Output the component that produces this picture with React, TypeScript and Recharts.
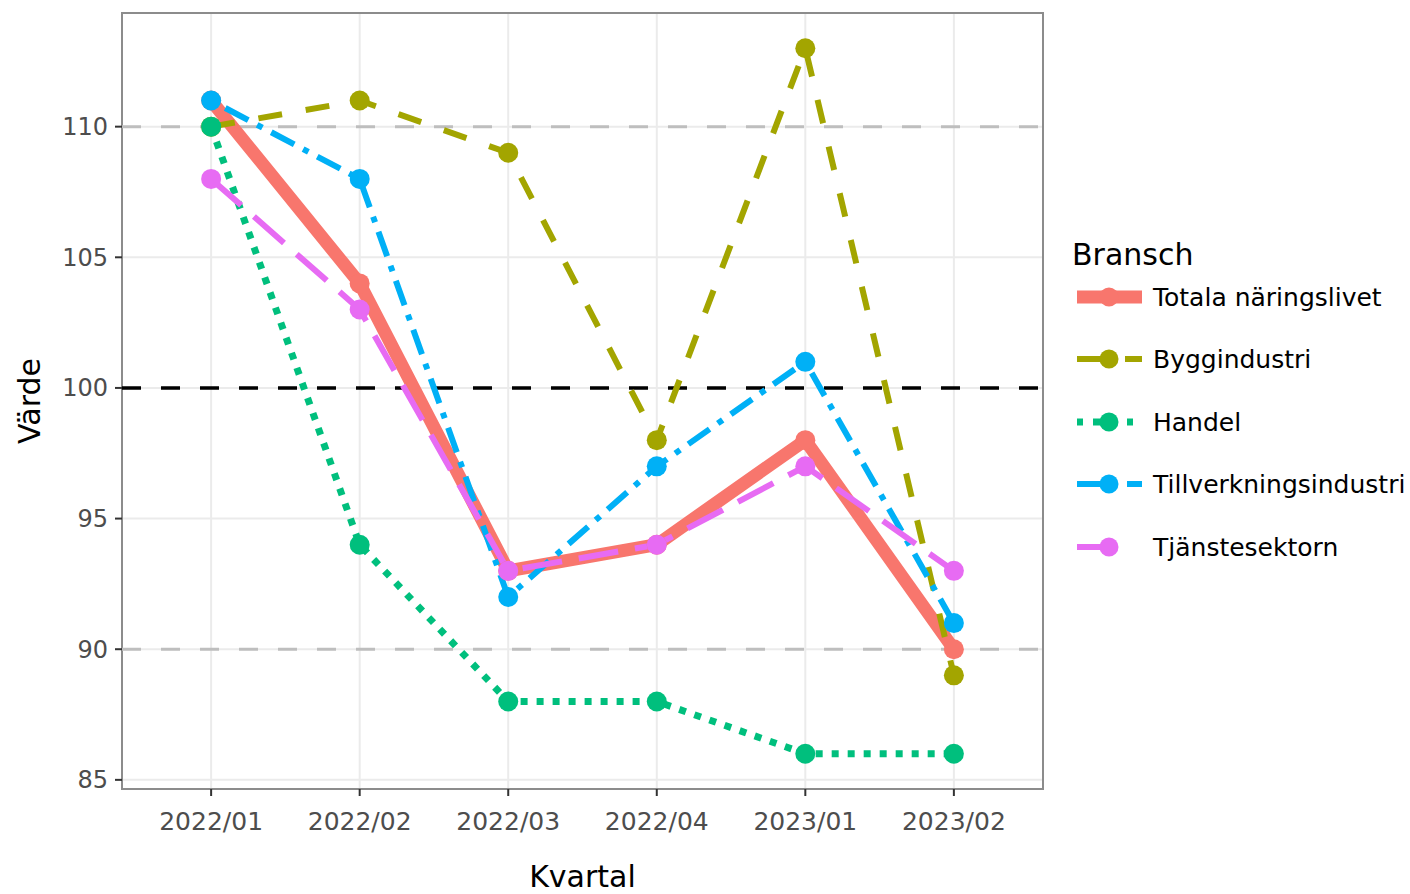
import React from "react";
import {
  LineChart,
  Line,
  XAxis,
  YAxis,
  CartesianGrid,
  ReferenceLine,
  ReferenceArea,
} from "recharts";

const quarters = ["2022/01", "2022/02", "2022/03", "2022/04", "2023/01", "2023/02"];
const totala = [111, 104, 93, 94, 98, 90];
const bygg = [110, 111, 109, 98, 113, 89];
const handel = [110, 94, 88, 88, 86, 86];
const tillverkning = [111, 108, 92, 97, 101, 91];
const tjanste = [108, 103, 93, 94, 97, 93];
const yTicks = [85, 90, 95, 100, 105, 110];

const FONT = "DejaVu Sans";

const series = [
  { key: "totala", name: "Totala näringslivet", color: "#F8766D", width: 13, dash: undefined },
  { key: "bygg", name: "Byggindustri", color: "#A3A500", width: 6, dash: "24 24" },
  { key: "handel", name: "Handel", color: "#00BF7D", width: 7, dash: "7 9" },
  { key: "tillverkning", name: "Tillverkningsindustri", color: "#00B0F6", width: 6, dash: "6 10 26 10" },
  { key: "tjanste", name: "Tjänstesektorn", color: "#E76BF3", width: 6, dash: "40 17" },
];

const data = quarters.map((q, i) => ({
  x: i,
  label: q,
  totala: totala[i],
  bygg: bygg[i],
  handel: handel[i],
  tillverkning: tillverkning[i],
  tjanste: tjanste[i],
}));

function Legend() {
  const rows = [67, 129, 192, 254, 317];
  return (
    <svg
      width={350}
      height={340}
      style={{ position: "absolute", left: 1060, top: 230, fontFamily: FONT }}
    >
      <text x={12} y={35} fontSize={30} fill="#000">
        Bransch
      </text>
      {/* Totala */}
      <line x1={17} x2={82} y1={rows[0]} y2={rows[0]} stroke="#F8766D" strokeWidth={13} />
      {/* Bygg */}
      <line x1={17} x2={48} y1={rows[1]} y2={rows[1]} stroke="#A3A500" strokeWidth={6} />
      <line x1={65} x2={82} y1={rows[1]} y2={rows[1]} stroke="#A3A500" strokeWidth={6} />
      {/* Handel */}
      <line x1={17} x2={23} y1={rows[2]} y2={rows[2]} stroke="#00BF7D" strokeWidth={7} />
      <line x1={33} x2={48} y1={rows[2]} y2={rows[2]} stroke="#00BF7D" strokeWidth={7} />
      <line x1={67} x2={73} y1={rows[2]} y2={rows[2]} stroke="#00BF7D" strokeWidth={7} />
      {/* Tillverkning */}
      <line x1={17} x2={48} y1={rows[3]} y2={rows[3]} stroke="#00B0F6" strokeWidth={6} />
      <line x1={67} x2={82} y1={rows[3]} y2={rows[3]} stroke="#00B0F6" strokeWidth={6} />
      {/* Tjanste */}
      <line x1={17} x2={48} y1={rows[4]} y2={rows[4]} stroke="#E76BF3" strokeWidth={6} />
      {series.map((s, i) => (
        <g key={s.key}>
          <circle cx={49} cy={rows[i]} r={9.5} fill={s.color} />
          <text x={93} y={rows[i] + 9} fontSize={25} fill="#000">
            {s.name}
          </text>
        </g>
      ))}
    </svg>
  );
}

export default function App() {
  return (
    <div
      style={{
        position: "absolute",
        left: 0,
        top: 0,
        width: 1410,
        height: 894,
        background: "#fff",
        fontFamily: FONT,
      }}
    >
      <LineChart
        width={1410}
        height={894}
        data={data}
        margin={{ top: 13, right: 367, bottom: 0, left: 0 }}
      >
        <CartesianGrid stroke="#EBEBEB" strokeWidth={2} />
        <XAxis
          dataKey="x"
          type="number"
          domain={[-0.6, 5.6]}
          ticks={[0, 1, 2, 3, 4, 5]}
          interval={0}
          allowDataOverflow
          height={105}
          tickFormatter={(v: number) => quarters[v]}
          tick={{ fontSize: 25, fill: "#4D4D4D", fontFamily: FONT }}
          tickLine={{ stroke: "#333", strokeWidth: 2 }}
          tickSize={7}
          tickMargin={16}
          axisLine={false}
          label={{
            value: "Kvartal",
            position: "insideBottom",
            offset: 7,
            style: { fontSize: 30, fill: "#000", fontFamily: FONT },
          }}
        />
        <YAxis
          type="number"
          domain={[84.65, 114.35]}
          ticks={yTicks}
          interval={0}
          allowDataOverflow
          width={122}
          tick={{ fontSize: 24, fill: "#4D4D4D", fontFamily: FONT }}
          tickLine={{ stroke: "#333", strokeWidth: 2 }}
          tickSize={7}
          tickMargin={7}
          axisLine={false}
          label={{
            value: "Värde",
            angle: -90,
            position: "insideLeft",
            offset: 29,
            style: { fontSize: 30, fill: "#000", fontFamily: FONT, textAnchor: "middle" },
          }}
        />
        <ReferenceLine y={110} stroke="#BEBEBE" strokeWidth={3} strokeDasharray="19 20" />
        <ReferenceLine y={90} stroke="#BEBEBE" strokeWidth={3} strokeDasharray="19 20" />
        <ReferenceLine y={100} stroke="#000" strokeWidth={3.5} strokeDasharray="19 20" />
        {series.map((s) => (
          <Line
            key={s.key + "-line"}
            dataKey={s.key}
            stroke={s.color}
            strokeWidth={s.width}
            strokeDasharray={s.dash}
            strokeLinejoin="round"
            dot={false}
            activeDot={false}
            isAnimationActive={false}
          />
        ))}
        {series.map((s) => (
          <Line
            key={s.key + "-pts"}
            dataKey={s.key}
            stroke="none"
            strokeWidth={0}
            dot={{ r: 10, fill: s.color, stroke: "none", strokeWidth: 0 }}
            activeDot={false}
            isAnimationActive={false}
          />
        ))}
        <ReferenceArea
          x1={-0.6}
          x2={5.6}
          y1={84.65}
          y2={114.35}
          fill="none"
          fillOpacity={0}
          stroke="#8C8C8C"
          strokeWidth={2}
          ifOverflow="visible"
        />
      </LineChart>
      <Legend />
    </div>
  );
}
